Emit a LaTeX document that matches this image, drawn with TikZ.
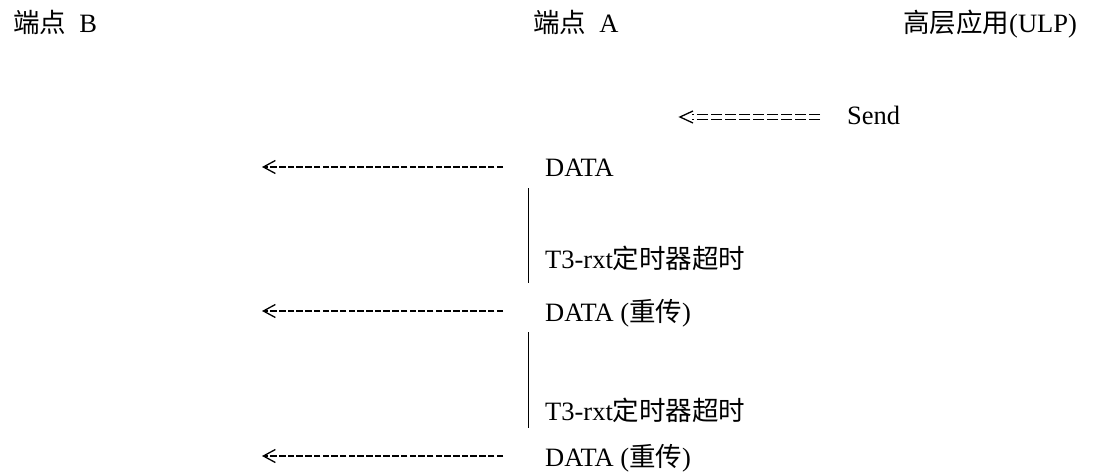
\documentclass[tikz,border=0pt]{standalone}
\usepackage{fontspec}
\setmainfont{Liberation Serif}
\newfontfamily\cjkfont{Noto Sans CJK SC}
\usetikzlibrary{arrows.meta}
\newcommand{\zhtext}[1]{{\cjkfont #1}}
\begin{document}
\begin{tikzpicture}[x=1pt,y=-1pt,
  lbl/.style={anchor=base west, inner sep=0pt, font=\fontsize{26.5}{30}\selectfont},
  dasharr/.style={line width=1.5pt, dash pattern=on 6.5pt off 2.2pt, -{Straight Barb[length=12pt,width=13pt,line width=1.3pt]}},
  dblarr/.style={line width=1.3pt, dash pattern=on 11pt off 3pt},
  tipline/.style={line width=1.3pt},
  vline/.style={line width=0.9pt}]
\useasboundingbox (0,0) rectangle (1099,473);
% headers
\node[lbl] (hb) at (13,33) {\zhtext{端点}\ \ B};
\node[lbl] (ha) at (533,33) {\zhtext{端点}\ \ A};
\node[lbl] (hu) at (903,33) {\zhtext{高层应用}(ULP)};
% send
\node[lbl] (send) at (847,125) {Send};
\coordinate (s1) at (820,117);
\coordinate (s0) at (680,117);
\draw[dblarr] ([yshift=2.6pt]s1) -- ([xshift=12pt,yshift=2.6pt]s0);
\draw[dblarr] ([yshift=-2.6pt]s1) -- ([xshift=12pt,yshift=-2.6pt]s0);
\draw[tipline] ([xshift=13pt,yshift=6pt]s0) -- (s0) -- ([xshift=13pt,yshift=-6pt]s0);
% rows
\node[lbl] (d1) at (545,177) {DATA};
\node[lbl] (t1) at (545,268) {T3-rxt\zhtext{定时器超时}};
\node[lbl] (d2) at (545,321) {DATA (\zhtext{重传})};
\node[lbl] (t2) at (545,420) {T3-rxt\zhtext{定时器超时}};
\node[lbl] (d3) at (545,466) {DATA (\zhtext{重传})};
\coordinate (b1) at (262,167);
\coordinate (b2) at (262,311);
\coordinate (b3) at (262,456);
\draw[dasharr] ([xshift=-42pt,yshift=10pt]d1.base west) -- (b1);
\draw[dasharr] ([xshift=-42pt,yshift=10pt]d2.base west) -- (b2);
\draw[dasharr] ([xshift=-42pt,yshift=10pt]d3.base west) -- (b3);
% timer lines
\draw[vline] ([xshift=-17pt,yshift=-11pt]d1.base west) -- ([xshift=-17pt,yshift=-15pt]t1.base west);
\draw[vline] ([xshift=-17pt,yshift=-11pt]d2.base west) -- ([xshift=-17pt,yshift=-8pt]t2.base west);
\end{tikzpicture}
\end{document}
